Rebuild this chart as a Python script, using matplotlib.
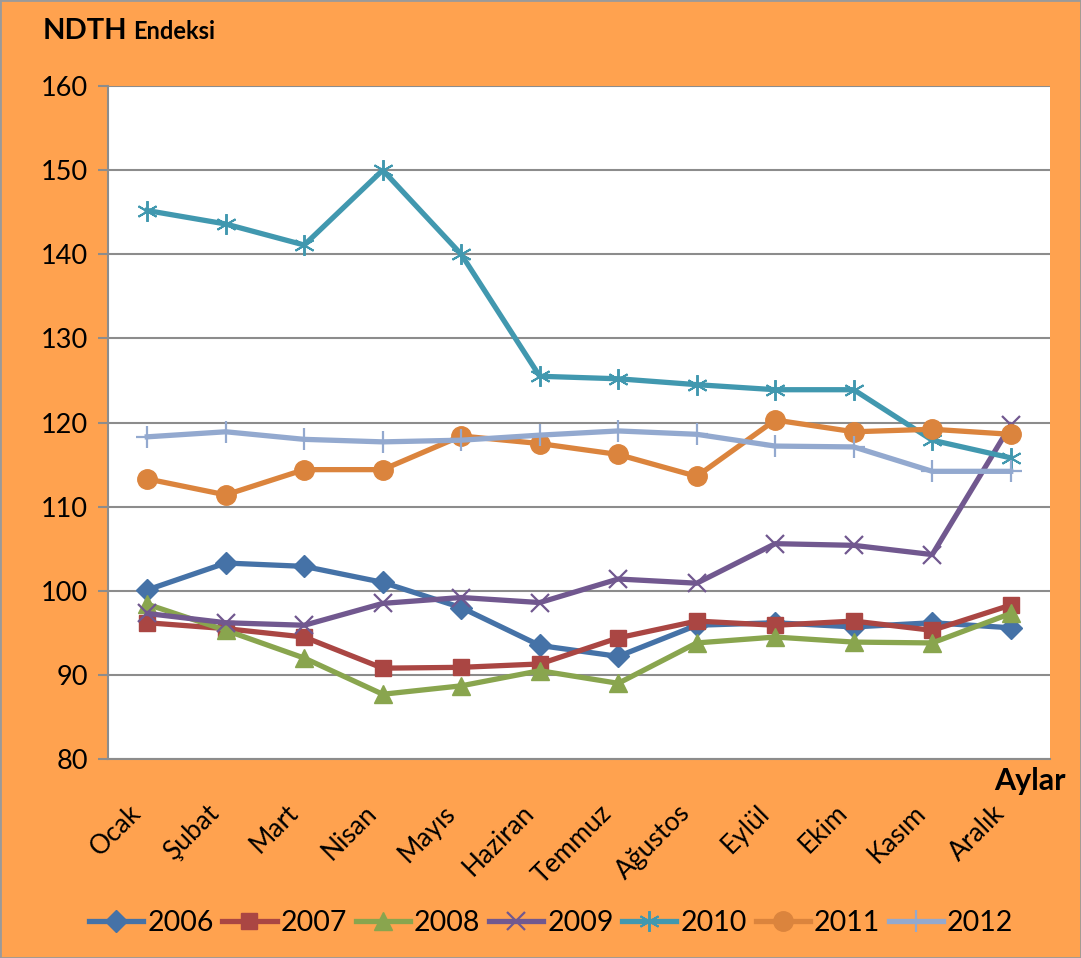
#!/usr/bin/env python3
"""NDTH Endeksi by month, 2006-2012."""

import matplotlib

matplotlib.use("Agg")
import matplotlib.pyplot as plt
import matplotlib.transforms as mtransforms
import numpy as np

plt.rcParams["font.family"] = ["Lato", "DejaVu Sans"]

months = ["Ocak", "Şubat", "Mart", "Nisan", "Mayıs", "Haziran",
          "Temmuz", "Ağustos", "Eylül", "Ekim", "Kasım", "Aralık"]

v2006 = [100.1, 103.3, 102.9, 101.0, 98.0, 93.5, 92.2, 95.9, 96.2, 95.7, 96.2, 95.6]
v2007 = [96.2, 95.5, 94.5, 90.8, 90.9, 91.3, 94.4, 96.4, 95.9, 96.4, 95.3, 98.3]
v2008 = [98.4, 95.3, 92.0, 87.7, 88.7, 90.5, 89.0, 93.8, 94.5, 93.9, 93.8, 97.3]
v2009 = [97.3, 96.2, 95.9, 98.5, 99.2, 98.6, 101.4, 100.9, 105.6, 105.4, 104.3, 119.7]
v2010 = [145.2, 143.6, 141.1, 150.0, 140.0, 125.5, 125.2, 124.5, 123.9, 123.9, 117.9, 115.8]
v2011 = [113.3, 111.4, 114.4, 114.4, 118.4, 117.5, 116.2, 113.6, 120.3, 118.9, 119.2, 118.6]
v2012 = [118.3, 118.9, 118.0, 117.7, 117.9, 118.5, 119.0, 118.6, 117.2, 117.1, 114.2, 114.2]

years = ["2006", "2007", "2008", "2009", "2010", "2011", "2012"]
series = [v2006, v2007, v2008, v2009, v2010, v2011, v2012]

colors = ["#4572A7", "#AA4643", "#89A54E", "#71588F", "#4198AF", "#DB843D", "#93A9CF"]
markers = ["D", "s", "^", "x", "*", "o", "+"]
msizes = [11, 12, 13, 13, 15, 14, 16]

BG = "#FFA24F"
GRID = "#8C8C8C"

fig = plt.figure(figsize=(10.81, 9.58), dpi=100, facecolor=BG)
fig.patches.append(plt.Rectangle((0, 0), 1, 1, transform=fig.transFigure,
                                 fill=False, edgecolor="#9A9A9A", linewidth=2))
ax = fig.add_axes([0.0999, 0.2077, 0.8714, 0.7025])
ax.set_facecolor("white")

x = np.arange(len(months))
for name, vals, c, m, ms in zip(years, series, colors, markers, msizes):
    if m in ("x", "+"):
        ax.plot(x, vals, color=c, lw=3.8, marker=m, ms=ms, mew=1.6, label=name)
    elif m == "*":
        ax.plot(x, vals, color=c, lw=3.8, marker=(6, 2, 0), ms=ms, mew=1.4, label=name)
    else:
        ax.plot(x, vals, color=c, lw=3.8, marker=m, ms=ms, mec=c, label=name)

ax.set_xlim(-0.5, 11.5)
ax.set_ylim(80, 160)
ax.set_yticks(np.arange(80, 161, 10))
ax.yaxis.grid(True, color=GRID, lw=1.5)
ax.set_axisbelow(True)
ax.tick_params(axis="y", labelsize=19.5, length=7.2, color=GRID, width=1.5, pad=7)
ax.set_xticks(x)
ax.set_xticklabels(months, rotation=45, ha="right", va="center",
                   rotation_mode="anchor", fontsize=19)
ax.tick_params(axis="x", length=0, pad=0)
shift = mtransforms.ScaledTranslation(-0.10, -0.50, fig.dpi_scale_trans)
for lbl in ax.get_xticklabels():
    lbl.set_transform(lbl.get_transform() + shift)
for side in ("top", "right"):
    ax.spines[side].set_visible(False)
for side in ("left", "bottom"):
    ax.spines[side].set_color(GRID)
    ax.spines[side].set_linewidth(1.5)

fig.text(0.039, 0.968, "NDTH", fontsize=21, fontweight="bold", va="center")
fig.text(0.123, 0.967, "Endeksi", fontsize=17, fontweight="bold", va="center")
fig.text(0.986, 0.185, "Aylar", fontsize=22, fontweight="bold", ha="right", va="center")

fig.legend(loc="center", bbox_to_anchor=(0.51, 0.037), ncol=7, frameon=False,
           fontsize=20.5, handlelength=1.9, handletextpad=0.15, columnspacing=0.3)

fig.savefig("out.png", dpi=100, facecolor=BG)
